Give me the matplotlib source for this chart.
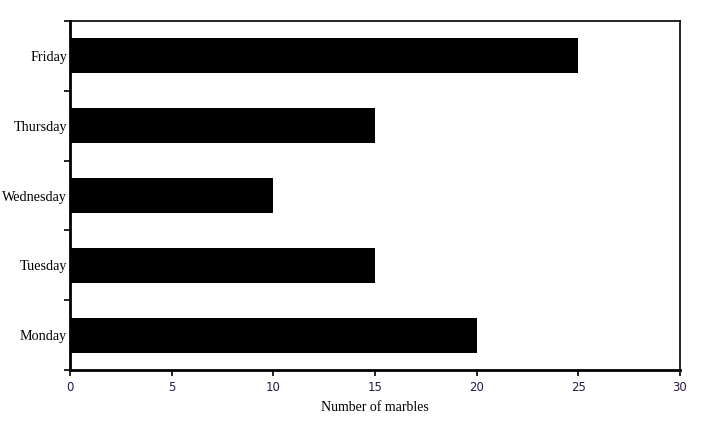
import numpy as np
import matplotlib.pyplot as plt

days = ['Monday', 'Tuesday', 'Wednesday', 'Thursday', 'Friday']
marbles = [20, 15, 10, 15, 25]
xticks = [0, 5, 10, 15, 20, 25, 30]

fig = plt.figure(figsize=(7.25, 4.26), dpi=100)
ax = fig.add_axes([70 / 725, 1 - 370 / 426, 610 / 725, 349 / 426])

pos = np.arange(len(days))
ax.barh(pos, marbles, height=0.5, color='black')

ax.set_xlim(0, 30)
ax.set_ylim(-0.5, len(days) - 0.5)

# category labels at bar centres, tick marks at boundaries
ax.set_yticks(np.arange(len(days) + 1) - 0.5)
ax.set_yticklabels([])
ax.set_yticks(pos, minor=True)
ax.set_yticklabels(days, minor=True, fontfamily='Liberation Serif', fontsize=10.2)
ax.tick_params(axis='y', which='major', length=4, width=1.2, direction='out')
ax.tick_params(axis='y', which='minor', length=0, pad=2)

ax.set_xticks(xticks)
ax.set_xticklabels([str(t) for t in xticks], fontfamily='DejaVu Sans', fontsize=8.5, color='#2a1a4a')
ax.tick_params(axis='x', length=4, width=1.2, direction='out', pad=4)

ax.set_xlabel('Number of marbles', fontfamily='Liberation Serif', fontsize=10, labelpad=5)

ax.spines['left'].set_linewidth(2)
ax.spines['bottom'].set_linewidth(2)
ax.spines['top'].set_linewidth(1.2)
ax.spines['right'].set_linewidth(1.2)

fig.savefig('out.png', dpi=100)
